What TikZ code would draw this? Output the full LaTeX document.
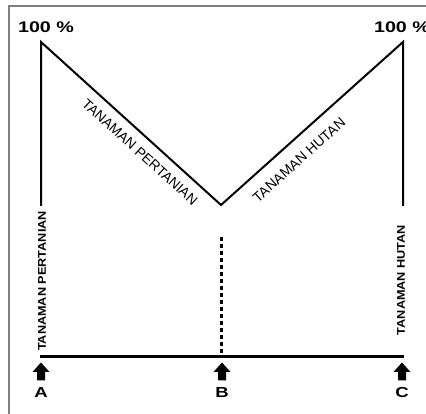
\documentclass[tikz,border=0pt]{standalone}
\usepackage{fontspec}
\setmainfont{Liberation Sans}
\newcommand{\wide}[1]{\scalebox{1.28}[1]{#1}}
\newcommand{\thin}[1]{\scalebox{1}[0.88]{#1}}
\begin{document}
\begin{tikzpicture}[x=1pt,y=1pt,
  vline/.style={line width=2pt,black},
  baseln/.style={line width=3pt,black},
  pct/.style={font=\fontsize{15.4}{15.4}\selectfont\bfseries,inner sep=0pt},
  letter/.style={font=\fontsize{14.5}{14.5}\selectfont\bfseries,inner sep=0pt},
  vtext/.style={font=\fontsize{12.7}{12.7}\selectfont\bfseries,inner sep=0pt,rotate=90},
  dtext/.style={font=\fontsize{14}{14}\selectfont,inner sep=0pt},
  uparrow/.style={fill=black,draw=none}]
\useasboundingbox (0,0) rectangle (426,414);
\draw[gray,line width=1.5pt] (9,0) -- (9,408) -- (426,408);
% key points
\coordinate (LT) at (41,372);
\coordinate (LB) at (41,208);
\coordinate (V) at (221,209);
\coordinate (RT) at (403,372);
\coordinate (RB) at (403,208);
\coordinate (BA) at (40,57);
\coordinate (BC) at (404,57);
\coordinate (DT) at (221,177);
\coordinate (DB) at (221,58);
% lines
\draw[vline,line join=miter] (LB) -- (LT) -- (V) -- (RT) -- (RB);
\draw[baseln] (BA) -- (BC);
\draw[line width=3pt,dash pattern=on 4pt off 3pt] (DT) -- (DB);
% labels
\node[pct] (p1) at (46,386.5) {\wide{100 \%}};
\node[pct] (p2) at (402,386.5) {\wide{100 \%}};
\node[dtext,rotate=-42.2] (dl) at (140,262) {TANAMAN PERTANIAN};
\node[dtext,rotate=41.8] (dr) at (299,254) {TANAMAN HUTAN};
\node[vtext] (vl) at (42,133) {\thin{TANAMAN PERTANIAN}};
\node[vtext] (vr) at (401,134) {\thin{TANAMAN HUTAN}};
% arrows
\foreach \x/\n in {41/A,222/B,402/C}{
  \fill[uparrow] (\x-8.5,42) -- (\x,51.5) -- (\x+8.5,42) -- (\x+4,42) -- (\x+4,33.5) -- (\x-4,33.5) -- (\x-4,42) -- cycle;
  \node[letter] (lab\n) at (\x,21) {\wide{\n}};
}
\end{tikzpicture}
\end{document}
